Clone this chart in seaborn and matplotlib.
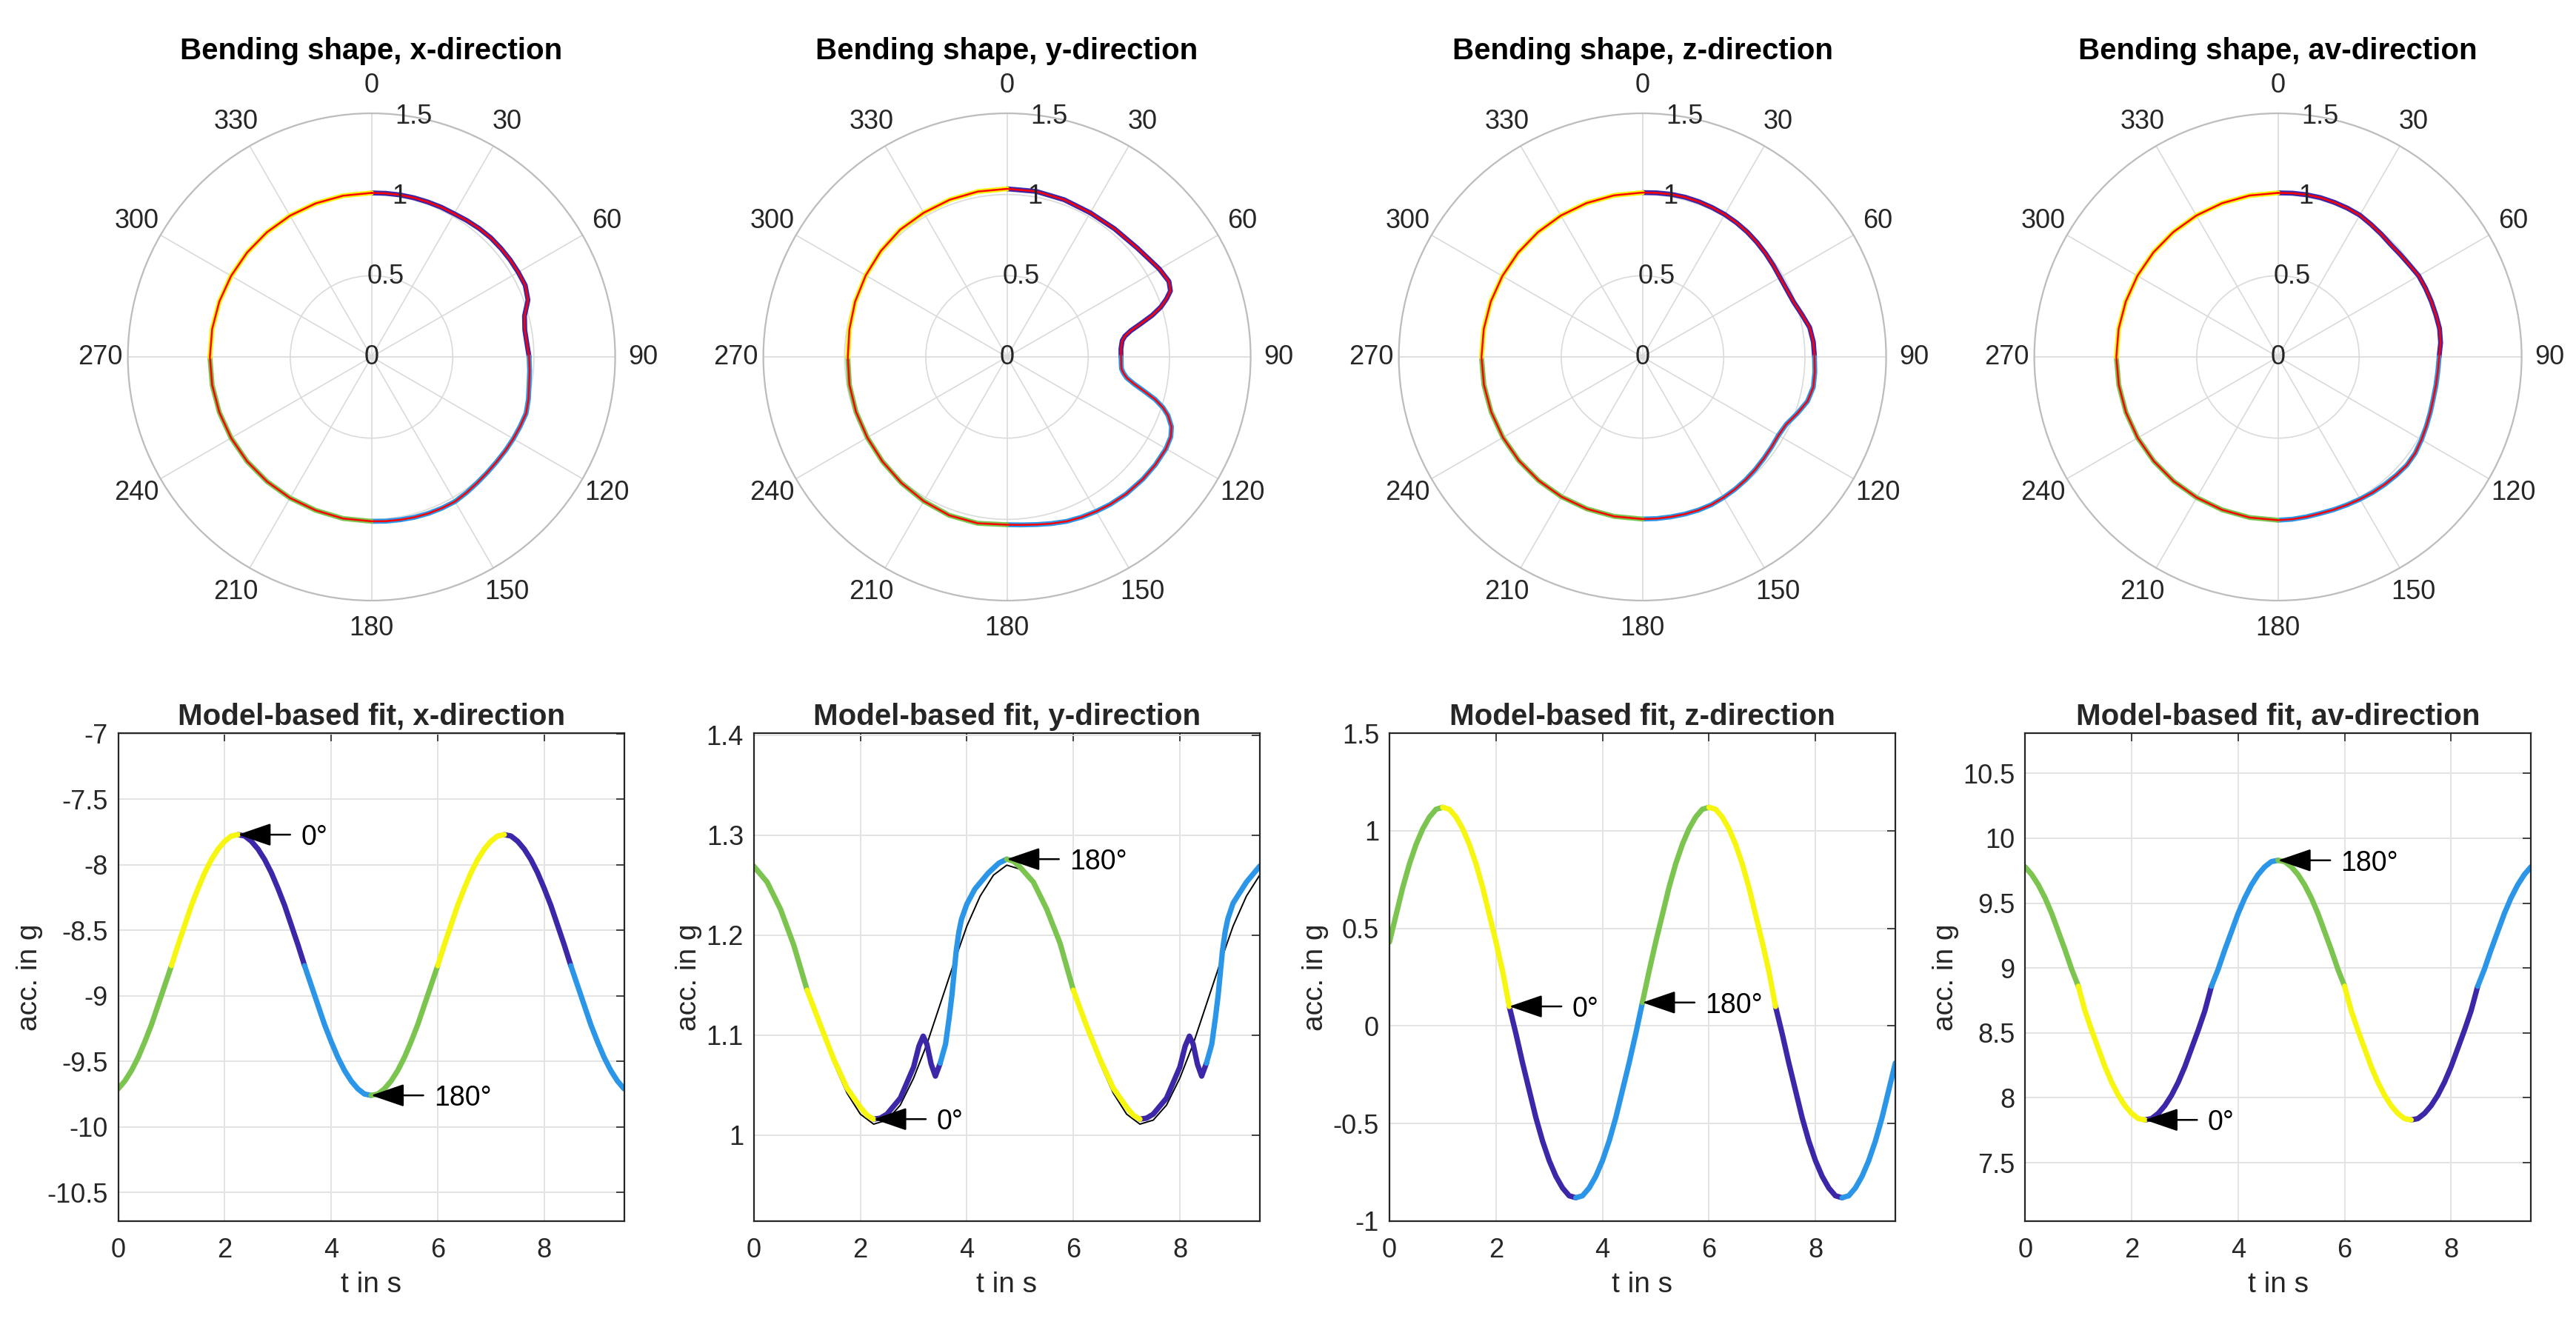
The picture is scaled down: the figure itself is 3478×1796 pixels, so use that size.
import numpy as np
import pandas as pd
import seaborn as sns
import matplotlib
matplotlib.use('Agg')
import matplotlib.pyplot as plt
from matplotlib.ticker import FuncFormatter

# ---- time axis of the bottom row (s)
t_grid = [0.0, 0.125, 0.25, 0.375, 0.5, 0.625, 0.75, 0.875, 1.0, 1.125, 1.25, 1.375, 1.5, 1.625, 1.75, 1.875,
          2.0, 2.125, 2.25, 2.375, 2.5, 2.625, 2.75, 2.875, 3.0, 3.125, 3.25, 3.375, 3.5, 3.625, 3.75, 3.875,
          4.0, 4.125, 4.25, 4.375, 4.5, 4.625, 4.75, 4.875, 5.0, 5.125, 5.25, 5.375, 5.5, 5.625, 5.75, 5.875,
          6.0, 6.125, 6.25, 6.375, 6.5, 6.625, 6.75, 6.875, 7.0, 7.125, 7.25, 7.375, 7.5, 7.625, 7.75, 7.875,
          8.0, 8.125, 8.25, 8.375, 8.5, 8.625, 8.75, 8.875, 9.0, 9.125, 9.25, 9.375, 9.5]

# measured acceleration (g), x / z / av share t_grid
acc_x = [-9.71, -9.65, -9.57, -9.47, -9.35, -9.22, -9.07, -8.92, -8.77, -8.61, -8.46, -8.31, -8.18, -8.06, -7.96, -7.88,
         -7.82, -7.78, -7.77, -7.78, -7.82, -7.88, -7.96, -8.06, -8.18, -8.31, -8.46, -8.61, -8.77, -8.92, -9.07, -9.22,
         -9.35, -9.47, -9.57, -9.65, -9.71, -9.75, -9.76, -9.75, -9.71, -9.65, -9.57, -9.47, -9.35, -9.22, -9.07, -8.92,
         -8.77, -8.61, -8.46, -8.31, -8.18, -8.06, -7.96, -7.88, -7.82, -7.78, -7.77, -7.78, -7.82, -7.88, -7.96, -8.06,
         -8.18, -8.31, -8.46, -8.61, -8.77, -8.92, -9.07, -9.22, -9.35, -9.47, -9.57, -9.65, -9.71]
acc_z = [0.43, 0.57, 0.71, 0.83, 0.93, 1.01, 1.07, 1.11, 1.12, 1.11, 1.07, 1.01, 0.93, 0.83, 0.71, 0.57,
         0.43, 0.28, 0.10, -0.04, -0.19, -0.33, -0.47, -0.59, -0.69, -0.77, -0.83, -0.87, -0.88, -0.87, -0.83, -0.77,
         -0.69, -0.59, -0.47, -0.33, -0.19, -0.04, 0.12, 0.28, 0.43, 0.57, 0.71, 0.83, 0.93, 1.01, 1.07, 1.11,
         1.12, 1.11, 1.07, 1.01, 0.93, 0.83, 0.71, 0.57, 0.43, 0.28, 0.10, -0.04, -0.19, -0.33, -0.47, -0.59,
         -0.69, -0.77, -0.83, -0.87, -0.88, -0.87, -0.83, -0.77, -0.69, -0.59, -0.47, -0.33, -0.19]
acc_av = [9.78, 9.72, 9.64, 9.54, 9.42, 9.28, 9.14, 8.99, 8.86, 8.67, 8.52, 8.38, 8.24, 8.12, 8.02, 7.94,
          7.88, 7.84, 7.83, 7.84, 7.88, 7.94, 8.02, 8.12, 8.24, 8.38, 8.52, 8.67, 8.86, 8.99, 9.14, 9.28,
          9.42, 9.54, 9.64, 9.72, 9.78, 9.82, 9.83, 9.82, 9.78, 9.72, 9.64, 9.54, 9.42, 9.28, 9.14, 8.99,
          8.86, 8.67, 8.52, 8.38, 8.24, 8.12, 8.02, 7.94, 7.88, 7.84, 7.83, 7.84, 7.88, 7.94, 8.02, 8.12,
          8.24, 8.38, 8.52, 8.67, 8.86, 8.99, 9.14, 9.28, 9.42, 9.54, 9.64, 9.72, 9.78]

# y-direction has its own time samples because of the bumps
t_y = [0.0, 0.25, 0.5, 0.75, 1.0, 1.25, 1.5, 1.75, 2.0, 2.125, 2.25, 2.375, 2.5, 2.75, 3.0, 3.1, 3.18, 3.25,
       3.33, 3.41, 3.5, 3.6, 3.67, 3.72, 3.76, 3.8, 3.85, 3.9, 4.0, 4.15, 4.4, 4.6, 4.75, 4.875,
       5.0, 5.25, 5.5, 5.75, 6.0, 6.25, 6.5, 6.75, 7.0, 7.125, 7.25, 7.375, 7.5, 7.75, 8.0, 8.1, 8.18, 8.25,
       8.33, 8.41, 8.5, 8.6, 8.67, 8.72, 8.76, 8.8, 8.85, 8.9, 9.0, 9.25, 9.5]
acc_y = [1.269, 1.253, 1.226, 1.190, 1.145, 1.110, 1.076, 1.047, 1.028, 1.020, 1.016, 1.017, 1.021, 1.037, 1.068, 1.089, 1.099, 1.091,
         1.071, 1.059, 1.072, 1.091, 1.118, 1.140, 1.162, 1.184, 1.203, 1.216, 1.231, 1.246, 1.262, 1.272, 1.276, 1.274,
         1.268, 1.253, 1.226, 1.192, 1.145, 1.109, 1.076, 1.047, 1.028, 1.020, 1.016, 1.017, 1.021, 1.037, 1.068, 1.089, 1.099, 1.091,
         1.071, 1.059, 1.072, 1.091, 1.118, 1.140, 1.162, 1.184, 1.203, 1.216, 1.232, 1.253, 1.269]

# model fits (black lines); for x, z and av the fit lies on the data at this scale
t_fit_y = [0.0, 0.25, 0.5, 0.75, 1.0, 1.25, 1.5, 1.75, 2.0, 2.25, 2.5, 2.75, 3.0, 3.25,
           3.5, 3.75, 4.0, 4.25, 4.5, 4.75, 5.0, 5.25, 5.5, 5.75, 6.0, 6.25, 6.5, 6.75,
           7.0, 7.25, 7.5, 7.75, 8.0, 8.25, 8.5, 8.75, 9.0, 9.25, 9.5]
fit_y = [1.266, 1.251, 1.224, 1.190, 1.150, 1.110, 1.072, 1.042, 1.021, 1.011, 1.015, 1.030, 1.057, 1.091,
         1.131, 1.171, 1.209, 1.239, 1.260, 1.270, 1.266, 1.251, 1.224, 1.190, 1.150, 1.110, 1.072, 1.042,
         1.021, 1.011, 1.015, 1.030, 1.057, 1.091, 1.131, 1.171, 1.209, 1.239, 1.260]
fit_x = list(acc_x)
fit_z = list(acc_z)
fit_av = list(acc_av)

# ---- bending shapes (angle in deg, normalised radius)
ang_std = [0, 5, 10, 15, 20, 25, 30, 35, 40, 45, 50, 55, 60, 65, 70, 75, 80, 85, 90,
           95, 100, 105, 110, 115, 120, 125, 130, 135, 140, 145, 150, 155, 160, 165, 170, 175, 180,
           190, 200, 210, 220, 230, 240, 250, 260, 270, 280, 290, 300, 310, 320, 330, 340, 350, 360]
rad_x = [1.010, 1.011, 1.013, 1.014, 1.015, 1.017, 1.018, 1.025, 1.032, 1.038, 1.040, 1.042, 1.043, 1.044, 1.025, 0.975, 0.958, 0.960, 0.970,
         0.977, 0.985, 1.000, 1.013, 1.010, 1.008, 1.006, 1.005, 1.007, 1.012, 1.020, 1.028, 1.027, 1.025, 1.022, 1.018, 1.015, 1.012,
         1.010, 1.005, 1.003, 1.001, 1.000, 0.998, 0.997, 0.996, 0.995, 0.996, 0.997, 0.998, 1.000, 1.002, 1.004, 1.006, 1.008, 1.010]
rad_z = [1.012, 1.014, 1.017, 1.018, 1.017, 1.015, 1.013, 1.009, 1.004, 0.997, 0.990, 0.983, 0.978, 0.980, 0.990, 1.015, 1.045, 1.056, 1.059,
         1.065, 1.068, 1.052, 1.015, 0.978, 0.966, 0.969, 0.974, 0.981, 0.988, 0.994, 0.999, 1.004, 1.004, 1.002, 1.000, 0.999, 0.998,
         0.997, 0.996, 0.995, 0.994, 0.993, 0.992, 0.991, 0.991, 0.991, 0.992, 0.994, 0.996, 0.999, 1.002, 1.005, 1.008, 1.010, 1.012]
rad_av = [1.010, 1.012, 1.014, 1.015, 1.013, 1.011, 1.008, 0.997, 0.988, 0.980, 0.982, 0.988, 1.000, 1.002, 1.004, 1.006, 1.010, 1.005, 0.992,
          0.988, 0.988, 0.990, 0.998, 1.008, 1.020, 1.032, 1.036, 1.030, 1.024, 1.018, 1.011, 1.005, 1.001, 0.998, 1.000, 1.003, 1.005,
          1.004, 1.002, 1.000, 0.999, 0.998, 0.997, 0.996, 0.995, 0.995, 0.996, 0.997, 0.999, 1.001, 1.003, 1.005, 1.007, 1.009, 1.010]
ang_y = [0, 10, 20, 30, 40, 50, 55, 60, 65, 68,
         70, 72, 74, 76, 78, 80, 82, 86, 90, 94,
         96, 98, 100, 102, 104, 106, 108, 110, 113, 116,
         120, 126, 132, 139, 145, 150, 155, 160, 165, 170,
         175, 180, 190, 200, 210, 220, 230, 240, 250, 260,
         270, 280, 290, 300, 310, 320, 330, 340, 350, 360]
rad_y = [1.035, 1.035, 1.030, 1.025, 1.030, 1.045, 1.060, 1.083, 1.100, 1.085,
         1.045, 0.996, 0.930, 0.850, 0.780, 0.737, 0.716, 0.703, 0.702, 0.705,
         0.709, 0.725, 0.750, 0.800, 0.870, 0.949, 1.010, 1.055, 1.100, 1.122,
         1.130, 1.129, 1.125, 1.118, 1.108, 1.098, 1.088, 1.077, 1.062, 1.048,
         1.038, 1.033, 1.040, 1.038, 1.025, 1.012, 1.001, 0.993, 0.989, 0.985,
         0.980, 0.985, 0.995, 1.004, 1.014, 1.023, 1.025, 1.030, 1.034, 1.035]

directions = ['x', 'y', 'z', 'av']
quad_names = ['0-90', '90-180', '180-270', '270-360']
quad_colors = {'0-90': '#3E26A8', '90-180': '#2B95E8', '180-270': '#7BC44F', '270-360': '#F6F610'}

# phase of the time signal, 0 deg = first extremum at t=2.25 s
phase_edges = [0.0, 1.0, 2.25, 3.5, 4.75, 6.0, 7.25, 8.5, 9.5]
phase_quads = ['180-270', '270-360', '0-90', '90-180', '180-270', '270-360', '0-90', '90-180']

theta_ticks = list(range(0, 360, 30))
r_ticks = [0, 0.5, 1, 1.5]


def split_time(t, v):
    base = pd.DataFrame({'t': t, 'acc': v})
    parts = []
    for k, q in enumerate(phase_quads):
        lo, hi = phase_edges[k], phase_edges[k + 1]
        part = base[(base.t >= lo - 1e-9) & (base.t <= hi + 1e-9)].copy()
        part['quad'] = q
        part['seg'] = k
        parts.append(part)
    return pd.concat(parts, ignore_index=True)


def split_angle(ang, r):
    base = pd.DataFrame({'deg': ang, 'r': r})
    base['th'] = np.deg2rad(base.deg)
    parts = []
    for k, q in enumerate(quad_names):
        part = base[(base.deg >= 90 * k) & (base.deg <= 90 * (k + 1))].copy()
        part['quad'] = q
        part['seg'] = k
        parts.append(part)
    return pd.concat(parts, ignore_index=True)


sns.set_theme(style='white')
plt.rcParams['font.family'] = ['Liberation Sans', 'DejaVu Sans']
plt.rcParams['axes.unicode_minus'] = False
txt_col = '#262626'
tick_fs = 13
title_fs = 14.5

fig = plt.figure(figsize=(17.39, 8.98), dpi=200)
W, H = 3478.0, 1796.0

polar_data = {'x': (ang_std, rad_x), 'y': (ang_y, rad_y), 'z': (ang_std, rad_z), 'av': (ang_std, rad_av)}
time_data = {'x': (t_grid, acc_x, t_grid, fit_x), 'y': (t_y, acc_y, t_fit_y, fit_y),
             'z': (t_grid, acc_z, t_grid, fit_z), 'av': (t_grid, acc_av, t_grid, fit_av)}
ylims = {'x': (-10.72, -6.995), 'y': (0.914, 1.402), 'z': (-1.0, 1.5), 'av': (7.05, 10.81)}
yticks = {'x': np.arange(-10.5, -6.9, 0.5), 'y': np.arange(1.0, 1.41, 0.1),
          'z': np.arange(-1.0, 1.51, 0.5), 'av': np.arange(7.5, 10.6, 0.5)}

fmt = FuncFormatter(lambda v, p: f'{v:g}')

for i, d in enumerate(directions):
    # ---------------- polar bending shape
    cx = 501.6 + 858 * i
    axp = fig.add_axes([(cx - 329) / W, (H - 482 - 329) / H, 658 / W, 658 / H], projection='polar')
    ang, rad = polar_data[d]
    dfp = split_angle(ang, rad)
    sns.lineplot(data=dfp, x='th', y='r', hue='quad', units='seg', estimator=None, sort=False,
                 palette=quad_colors, hue_order=quad_names, linewidth=2.4, legend=False, ax=axp)
    sns.lineplot(x=np.deg2rad(ang), y=rad, color='red', linewidth=0.9, sort=False,
                 estimator=None, ax=axp)
    axp.set_theta_zero_location('N')
    axp.set_theta_direction(-1)
    axp.set_rlim(0, 1.5)
    axp.set_thetagrids(theta_ticks, labels=[str(a) for a in theta_ticks])
    axp.set_rgrids(r_ticks, labels=['' for _ in r_ticks])
    for rv in r_ticks:
        axp.text(np.deg2rad(10), rv, f'{rv:g}', ha='center', va='center',
                 fontsize=tick_fs, color=txt_col)
    axp.set_xlabel('')
    axp.set_ylabel('')
    axp.grid(True, color='#DADADA', linewidth=0.6)
    axp.spines['polar'].set_color('#BDBDBD')
    axp.spines['polar'].set_linewidth(0.8)
    axp.tick_params(axis='x', pad=6.5, length=0, labelsize=tick_fs, colors=txt_col)
    axp.text(0.5, 1.128, f'Bending shape, {d}-direction', transform=axp.transAxes,
             ha='center', va='center', fontsize=title_fs, fontweight='bold', color='black')

    # ---------------- model-based fit in time domain
    left = 159.6 + 858.2 * i
    ax = fig.add_axes([left / W, (H - 1649) / H, 683 / W, 659 / H])
    t, acc, tf, fit = time_data[d]
    sns.lineplot(x=tf, y=fit, color='black', linewidth=0.7, sort=False, estimator=None, ax=ax)
    dft = split_time(t, acc)
    sns.lineplot(data=dft, x='t', y='acc', hue='quad', units='seg', estimator=None, sort=False,
                 palette=quad_colors, hue_order=quad_names, linewidth=2.6, legend=False, ax=ax)
    for ln in ax.lines:
        ln.set_solid_joinstyle('round')
    ax.set_xlim(0, 9.5)
    ax.set_ylim(*ylims[d])
    ax.set_xticks([0, 2, 4, 6, 8])
    ax.set_yticks(yticks[d])
    ax.xaxis.set_major_formatter(fmt)
    ax.yaxis.set_major_formatter(fmt)
    ax.grid(True, color='#E3E3E3', linewidth=0.7)
    ax.set_axisbelow(True)
    for sp in ax.spines.values():
        sp.set_color(txt_col)
        sp.set_linewidth(0.8)
    ax.tick_params(direction='in', top=True, right=True, length=4, width=0.6,
                   labelsize=tick_fs, colors=txt_col)
    ax.tick_params(axis='x', pad=8)
    ax.tick_params(axis='y', pad=5)
    ax.set_xlabel('t in s', fontsize=14, color=txt_col, labelpad=4)
    ax.set_ylabel('acc. in g', fontsize=14, color=txt_col, labelpad=2)
    ax.set_title(f'Model-based fit, {d}-direction', fontsize=title_fs, fontweight='bold', pad=4)

    # arrows at the 0 deg and 180 deg points
    for t_mark, lab in [(2.25, '0°'), (4.75, '180°')]:
        v_mark = acc[list(t).index(t_mark)]
        ax.annotate('', xy=(t_mark, v_mark), xytext=(t_mark + 0.98, v_mark),
                    arrowprops=dict(arrowstyle='-|>,head_length=0.7,head_width=0.24',
                                    color='black', lw=0.9, mutation_scale=20,
                                    shrinkA=0, shrinkB=0))
        ax.text(t_mark + 1.18, v_mark, lab, ha='left', va='center_baseline',
                fontsize=13.5, color='black')

fig.savefig('out.png', dpi=200, facecolor='white')
